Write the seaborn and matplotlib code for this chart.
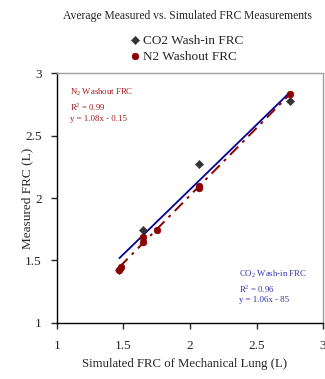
import numpy as np
import pandas as pd
import matplotlib
matplotlib.use("Agg")
import matplotlib.pyplot as plt
import seaborn as sns

# ----------------------------------------------------------------------
# Data
# ----------------------------------------------------------------------
co2_sim = [1.47, 1.65, 2.07, 2.75]
co2_meas = [1.42, 1.74, 2.27, 2.78]

n2_sim = [1.47, 1.48, 1.65, 1.65, 1.75, 2.07, 2.07, 2.75]
n2_meas = [1.42, 1.45, 1.65, 1.69, 1.74, 2.08, 2.10, 2.83]

x_ticks = [1, 1.5, 2, 2.5, 3]
y_ticks = [1, 1.5, 2, 2.5, 3]

co2 = pd.DataFrame({"sim": co2_sim, "meas": co2_meas})
n2 = pd.DataFrame({"sim": n2_sim, "meas": n2_meas})

# ----------------------------------------------------------------------
# Style
# ----------------------------------------------------------------------
sns.set_style("white")
plt.rcParams["font.family"] = ["Liberation Serif", "DejaVu Serif"]
plt.rcParams["mathtext.fontset"] = "custom"
plt.rcParams["mathtext.rm"] = "Liberation Serif"

DARK_RED = "#8b0000"
NAVY = "#000099"
GRAY = "#333333"

fig = plt.figure(figsize=(3.25, 3.79), dpi=100)
ax = fig.add_axes([0.175, 0.148, 0.819, 0.659])

# trend lines
sns.regplot(data=co2, x="sim", y="meas", ax=ax, scatter=False, ci=None,
            line_kws={"color": NAVY, "lw": 1.3, "zorder": 2})
sns.regplot(data=n2, x="sim", y="meas", ax=ax, scatter=False, ci=None,
            line_kws={"color": DARK_RED, "lw": 1.4, "ls": (0, (6, 3, 1.5, 3)),
                      "zorder": 3})

# points
sns.scatterplot(data=co2, x="sim", y="meas", ax=ax, marker="D", s=18,
                color=GRAY, edgecolor=GRAY, label="CO2 Wash-in FRC", zorder=4)
sns.scatterplot(data=n2, x="sim", y="meas", ax=ax, marker="o", s=24,
                color=DARK_RED, edgecolor=DARK_RED, label="N2 Washout FRC", zorder=5)

ax.set_xlim(1, 3)
ax.set_ylim(1, 3)
ax.set_xticks(x_ticks)
ax.set_yticks(y_ticks)
ax.set_xticklabels([f"{t:g}" for t in x_ticks])
ax.set_yticklabels([f"{t:g}" for t in y_ticks])
ax.tick_params(axis="x", direction="out", length=4, width=1, pad=8,
               labelsize=9.5, bottom=True)
ax.tick_params(axis="y", direction="out", length=4, width=1, pad=7,
               labelsize=9.5, left=True)

for side in ["left", "bottom"]:
    ax.spines[side].set_color("black")
    ax.spines[side].set_linewidth(1)
for side in ["top", "right"]:
    ax.spines[side].set_color("#a0a0a0")
    ax.spines[side].set_linewidth(1)

ax.set_xlabel("Simulated FRC of Mechanical Lung (L)", fontsize=9.2)
ax.xaxis.set_label_coords(0.48, -0.14)
ax.set_ylabel("Measured FRC (L)", fontsize=9.5)
ax.yaxis.set_label_coords(-0.088, 0.5)

fig.text(0.578, 0.958, "Average Measured vs. Simulated FRC Measurements",
         ha="center", va="center", fontsize=8.4)

ax.legend(loc="center left", bbox_to_anchor=(0.27, 1.098), frameon=False,
          fontsize=9.5, handletextpad=0.1, labelspacing=0.3,
          handlelength=1.0, borderaxespad=0, borderpad=0)

# regression annotations
ax.text(0.05, 0.945, "N$_2$ Washout FRC\nR$^2$ = 0.99\ny = 1.08x - 0.15",
        transform=ax.transAxes, color="#a01818", fontsize=6.3,
        ha="left", va="top", linespacing=1.3)
ax.text(0.685, 0.218, "CO$_2$ Wash-in FRC\nR$^2$ = 0.96\ny = 1.06x - 85",
        transform=ax.transAxes, color="#3030b0", fontsize=6.3,
        ha="left", va="top", linespacing=1.3)

fig.savefig("out.png", dpi=100)
